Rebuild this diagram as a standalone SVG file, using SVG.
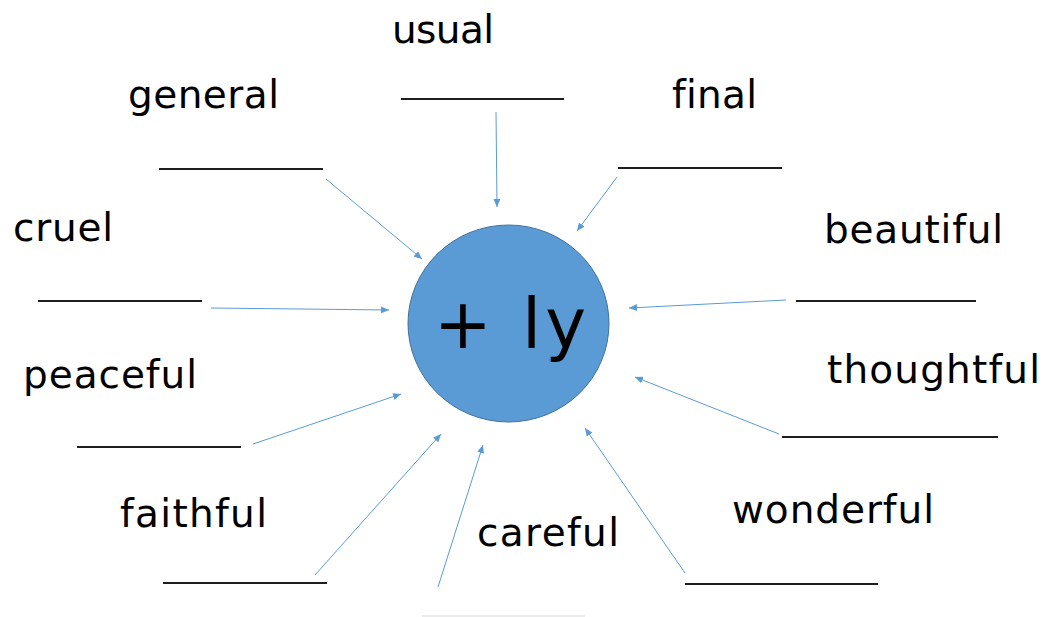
<svg xmlns="http://www.w3.org/2000/svg" width="1059" height="617" viewBox="0 0 1059 617">
<defs>
<marker id="ah" markerWidth="8" markerHeight="7" refX="8" refY="3.5" orient="auto" markerUnits="userSpaceOnUse">
<path d="M0,0 L8,3.5 L0,7 z" fill="#5B9BD5"/>
</marker>
<style>
.w{font-family:"DejaVu Sans","Liberation Sans",sans-serif;font-size:39px;fill:#000;font-variant-ligatures:none;font-feature-settings:"liga" 0;}
.blank{stroke:#1e1e1e;stroke-width:1.8;}
.c{stroke:#5B9BD5;stroke-width:1;fill:none;marker-end:url(#ah);}
</style>
</defs>
<rect width="1059" height="617" fill="#fff"/>
<g id="center">
<ellipse cx="508.5" cy="323.5" rx="100.5" ry="98.5" fill="#5B9BD5" stroke="#41719C" stroke-width="1"/>
<text x="434" y="348" font-family="DejaVu Sans,Liberation Sans,sans-serif" font-size="69" fill="#000" textLength="152" lengthAdjust="spacing">+ ly</text>
</g>
<g id="usual"><text class="w" x="392" y="43" textLength="102" lengthAdjust="spacing">usual</text><line class="blank" x1="401" y1="99" x2="564" y2="99"/></g>
<g id="general"><text class="w" x="128" y="108" textLength="151" lengthAdjust="spacing">general</text><line class="blank" x1="159" y1="169" x2="323" y2="169"/></g>
<g id="final"><text class="w" x="672" y="108" textLength="85" lengthAdjust="spacing">final</text><line class="blank" x1="618" y1="168" x2="782" y2="168"/></g>
<g id="cruel"><text class="w" x="13" y="241" textLength="100" lengthAdjust="spacing">cruel</text><line class="blank" x1="38" y1="301" x2="202" y2="301"/></g>
<g id="beautiful"><text class="w" x="824" y="243" textLength="179" lengthAdjust="spacing">beautiful</text><line class="blank" x1="796" y1="301" x2="976" y2="301"/></g>
<g id="peaceful"><text class="w" x="23" y="388" textLength="174" lengthAdjust="spacing">peaceful</text><line class="blank" x1="77" y1="447" x2="241" y2="447"/></g>
<g id="thoughtful"><text class="w" x="827" y="383" textLength="213" lengthAdjust="spacing">thoughtful</text><line class="blank" x1="782" y1="437" x2="998" y2="437"/></g>
<g id="faithful"><text class="w" x="120" y="527" textLength="147" lengthAdjust="spacing">faithful</text><line class="blank" x1="163" y1="583" x2="327" y2="583"/></g>
<g id="wonderful"><text class="w" x="732" y="523" textLength="202" lengthAdjust="spacing">wonderful</text><line class="blank" x1="685" y1="584" x2="878" y2="584"/></g>
<g id="careful"><text class="w" x="477" y="546" textLength="142" lengthAdjust="spacing">careful</text><line x1="422" y1="616" x2="585" y2="616" stroke="#e4e4e4" stroke-width="1.5"/></g>
<g id="connectors">
<line class="c" x1="496" y1="112" x2="497" y2="207"/>
<line class="c" x1="617" y1="177" x2="577" y2="231"/>
<line class="c" x1="326" y1="179" x2="422" y2="259"/>
<line class="c" x1="211" y1="308" x2="389" y2="310"/>
<line class="c" x1="786" y1="300" x2="629" y2="308"/>
<line class="c" x1="253" y1="444" x2="401" y2="394"/>
<line class="c" x1="315" y1="575" x2="441" y2="434"/>
<line class="c" x1="438" y1="587" x2="483" y2="445"/>
<line class="c" x1="685" y1="573" x2="585" y2="428"/>
<line class="c" x1="779" y1="434" x2="635" y2="377"/>
</g>
</svg>
